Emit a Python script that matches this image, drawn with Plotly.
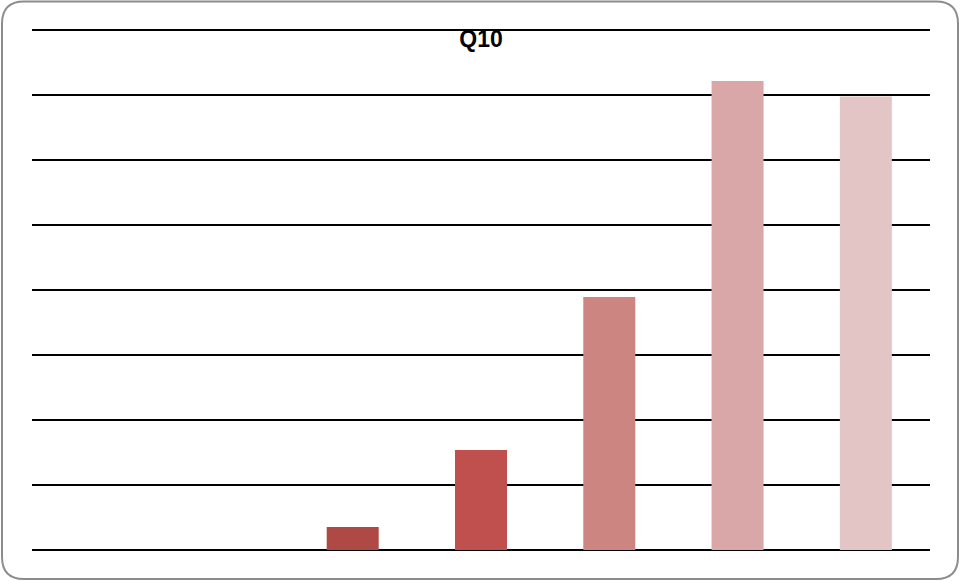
import plotly.graph_objects as go

# Response counts per answer option for question Q10
categories = ["1", "2", "3", "4", "5", "6", "7"]
values = [0, 0, 0.354, 1.538, 3.892, 7.215, 6.977]
bar_colors = ["#B04A47", "#C0504D", "#AF4946", "#C0504D", "#CD8582", "#D9A7A8", "#E3C5C6"]
title_text = "Q10"

W, H = 960, 581
grid_px = 65  # pixel height of one grid step
spare = 3  # spare pixels above the top gridline so it is not clipped
L, R, T, B = 32, 30, 30 - spare, 31
pw, ph = W - L - R, H - T - B
y_top = 8 + spare / grid_px


def px(x):
    return (x - L) / pw


def py(y):
    return (H - B - y) / ph


fig = go.Figure(
    go.Bar(
        x=categories,
        y=values,
        marker=dict(color=bar_colors, line=dict(width=0)),
        width=52 / (pw / 7),
        hoverinfo="x+y",
    )
)

# Rounded outer frame around the chart
x0, x1, y0, y1, r = 2, 958, 1.5, 579, 22
path = (
    f"M {px(x0 + r)} {py(y0)} L {px(x1 - r)} {py(y0)} "
    f"Q {px(x1)} {py(y0)} {px(x1)} {py(y0 + r)} "
    f"L {px(x1)} {py(y1 - r)} "
    f"Q {px(x1)} {py(y1)} {px(x1 - r)} {py(y1)} "
    f"L {px(x0 + r)} {py(y1)} "
    f"Q {px(x0)} {py(y1)} {px(x0)} {py(y1 - r)} "
    f"L {px(x0)} {py(y0 + r)} "
    f"Q {px(x0)} {py(y0)} {px(x0 + r)} {py(y0)} Z"
)

fig.update_layout(
    width=W,
    height=H,
    margin=dict(l=L, r=R, t=T, b=B),
    paper_bgcolor="white",
    plot_bgcolor="white",
    showlegend=False,
    title=dict(
        text=f"<b>{title_text}</b>",
        x=481 / W,
        xanchor="center",
        y=1 - 39 / H,
        yanchor="middle",
        xref="container",
        yref="container",
        font=dict(family="Liberation Sans, Arial, sans-serif", size=23, color="#000000"),
    ),
    xaxis=dict(
        showgrid=False,
        showticklabels=False,
        ticks="",
        showline=False,
        zeroline=False,
        range=[-0.5, 6.5],
    ),
    yaxis=dict(
        range=[0, y_top],
        dtick=1,
        tick0=0,
        showgrid=True,
        gridcolor="#000000",
        gridwidth=2,
        zeroline=True,
        zerolinecolor="#000000",
        zerolinewidth=2,
        showticklabels=False,
        ticks="",
        showline=False,
    ),
    shapes=[
        dict(
            type="path",
            path=path,
            xref="paper",
            yref="paper",
            line=dict(color="#8C8C8C", width=2),
            fillcolor="rgba(0,0,0,0)",
            layer="above",
        )
    ],
)

fig.write_html("out.html")
